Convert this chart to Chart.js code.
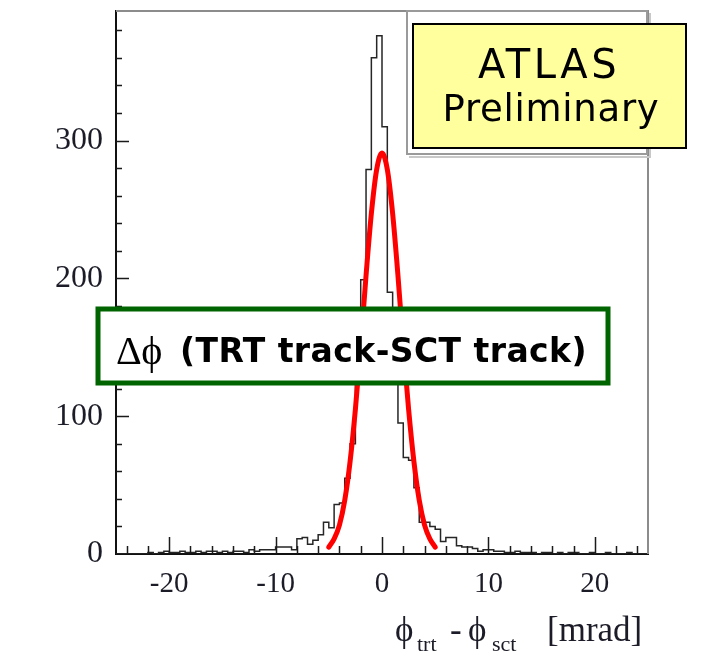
<!DOCTYPE html>
<html><head><meta charset="utf-8">
<script src="https://cdn.jsdelivr.net/npm/chart.js@4"></script>
<style>html,body{margin:0;padding:0;background:#fff;}#wrap{width:705px;height:668px;}</style>
</head><body><div id="wrap"><canvas id="c" width="705" height="668"></canvas></div>
<script>
// ---- data ----
const binLow = -25;
const binWidth = 0.5;
const counts = [
  0,0,0,0,0,0,0,1,0,1,
  2,1,1,2,1,1,2,1,2,2,
  1,2,1,2,2,1,3,2,3,3,
  3,5,5,5,3,11,12,7,10,14,
  23,19,36,37,55,80,135,199,279,360,
  376,310,190,140,95,70,68,48,23,23,
  20,18,9,12,12,6,5,5,4,2,
  3,3,2,2,1,1,2,1,1,1,
  0,1,1,0,1,0,1,1,0,0,
  1,0,0,1,0,0,0,1,0,0
];
const fitX = [-5,-4.5,-4,-3.5,-3,-2.5,-2,-1.5,-1,-0.5,0,0.5,1,1.5,2,2.5,3,3.5,4,4.5,5];
const fitY = [5,11,21,39,67,105,151,202,247,279,291,279,247,202,151,105,67,39,21,11,5];
const xTickValues = [-20,-10,0,10,20];
const yTickValues = [0,100,200,300];
const xRange = [-25, 25];
const yRange = [0, 394];
const boxLines = ['ATLAS', 'Preliminary'];
const panelSymbol = 'Δϕ';
const panelText = '(TRT track-SCT track)';
const axisTitleParts = [
  {t:'ϕ', sub:false}, {t:'trt', sub:true}, {t:'-', sub:false},
  {t:'ϕ', sub:false}, {t:'sct', sub:true}, {t:'[mrad]', sub:false}
];

const histPoints = counts.map((c, i) => ({x: binLow + i * binWidth, y: c}));
histPoints.push({x: binLow + counts.length * binWidth, y: counts[counts.length - 1]});
const fitPoints = fitX.map((v, i) => ({x: v, y: fitY[i]}));

const SERIF = "'Liberation Serif','DejaVu Serif',serif";

function fitText(ctx, text, x, y, targetW, align) {
  ctx.letterSpacing = '0px';
  const w = ctx.measureText(text).width;
  const n = Math.max(1, text.length);
  const ls = (targetW - w) / n;
  ctx.letterSpacing = ls.toFixed(2) + 'px';
  ctx.textAlign = 'left';
  let sx = x;
  if (align === 'center') sx = x - targetW / 2;
  ctx.fillText(text, sx, y);
  ctx.letterSpacing = '0px';
}

const overlay = {
  id: 'overlay',
  afterDraw(chart) {
    const {ctx, chartArea: a, scales: {x, y}} = chart;
    ctx.save();
    // frame top & right
    ctx.strokeStyle = '#8c8c8c';
    ctx.lineWidth = 2;
    ctx.beginPath();
    ctx.moveTo(a.left, a.top); ctx.lineTo(a.right, a.top); ctx.lineTo(a.right, a.bottom);
    ctx.stroke();
    // inward ticks
    ctx.strokeStyle = '#1a1a1a';
    ctx.lineWidth = 1.5;
    ctx.beginPath();
    for (let v = -24; v <= 24; v += 2) {
      const px = Math.round(x.getPixelForValue(v)) + 0.5;
      const len = xTickValues.includes(v) ? 17 : 8;
      ctx.moveTo(px, a.bottom); ctx.lineTo(px, a.bottom - len);
    }
    for (let v = 20; v <= 380; v += 20) {
      const py = Math.round(y.getPixelForValue(v)) + 0.5;
      const len = yTickValues.includes(v) ? 13 : 6;
      ctx.moveTo(a.left, py); ctx.lineTo(a.left + len, py);
    }
    ctx.stroke();

    // stat box (behind)
    ctx.fillStyle = '#ffffff';
    ctx.fillRect(407, 11, 240, 143);
    ctx.strokeStyle = '#9a9a9a';
    ctx.lineWidth = 2;
    ctx.strokeRect(407, 11, 240, 143);
    ctx.strokeStyle = '#c8c8c8';
    ctx.beginPath(); ctx.moveTo(409, 157); ctx.lineTo(650, 157); ctx.lineTo(650, 13); ctx.stroke();

    // yellow ATLAS box
    ctx.fillStyle = '#ffff9e';
    ctx.fillRect(413, 24, 273, 124);
    ctx.strokeStyle = '#000';
    ctx.lineWidth = 2;
    ctx.strokeRect(413, 24, 273, 124);
    ctx.fillStyle = '#000';
    ctx.textBaseline = 'alphabetic';
    ctx.font = "40px 'DejaVu Sans', sans-serif";
    fitText(ctx, boxLines[0], 549, 78, 142, 'center');
    ctx.font = "37px 'DejaVu Sans', sans-serif";
    fitText(ctx, boxLines[1], 551, 121, 217, 'center');

    // green label box
    ctx.fillStyle = '#ffffff';
    ctx.fillRect(98, 309, 510, 74);
    ctx.strokeStyle = '#006400';
    ctx.lineWidth = 5;
    ctx.strokeRect(98, 309, 510, 74);
    ctx.fillStyle = '#000';
    ctx.font = "40px " + SERIF;
    fitText(ctx, panelSymbol, 116, 364, 46, 'left');
    ctx.font = "bold 33px 'DejaVu Sans', sans-serif";
    fitText(ctx, panelText, 180, 362, 407, 'left');

    // x axis title
    const xs = [395, 417, 450, 468, 492, 547];
    ctx.fillStyle = '#1c1c28';
    axisTitleParts.forEach((p, i) => {
      ctx.font = (p.sub ? "22px " : "35px ") + SERIF;
      ctx.textAlign = 'left';
      ctx.fillText(p.t, xs[i], p.sub ? 651 : 641);
    });
    ctx.restore();
  }
};

new Chart(document.getElementById('c'), {
  type: 'line',
  data: {
    datasets: [
      {data: fitPoints, borderColor: '#ff0000', borderWidth: 5, pointRadius: 0,
       cubicInterpolationMode: 'monotone', fill: false, borderCapStyle: 'round'},
      {data: histPoints, borderColor: '#262626', borderWidth: 1.5, pointRadius: 0,
       stepped: 'after', fill: false}
    ]
  },
  options: {
    responsive: false,
    devicePixelRatio: 1,
    animation: false,
    layout: {padding: {top: 11, right: 57, left: 0, bottom: 0}},
    plugins: {legend: {display: false}, tooltip: {enabled: false}},
    scales: {
      x: {
        type: 'linear', min: xRange[0], max: xRange[1],
        afterBuildTicks: s => { s.ticks = xTickValues.map(v => ({value: v})); },
        afterFit: s => { s.height = 114; s.paddingLeft = 0; s.paddingRight = 0; },
        grid: {display: false, drawTicks: false, tickLength: 0},
        border: {display: true, color: '#111', width: 2},
        ticks: {font: {family: SERIF, size: 29}, color: '#1c1c28', padding: 13,
                maxRotation: 0, autoSkip: false}
      },
      y: {
        type: 'linear', min: yRange[0], max: yRange[1],
        afterBuildTicks: s => { s.ticks = yTickValues.map(v => ({value: v})); },
        afterFit: s => { s.width = 116; s.paddingTop = 0; s.paddingBottom = 0; },
        grid: {display: false, drawTicks: false, tickLength: 0},
        border: {display: true, color: '#111', width: 2},
        ticks: {font: {family: SERIF, size: 32}, color: '#1c1c28', padding: 13}
      }
    }
  },
  plugins: [overlay]
});
</script>
</body></html>
